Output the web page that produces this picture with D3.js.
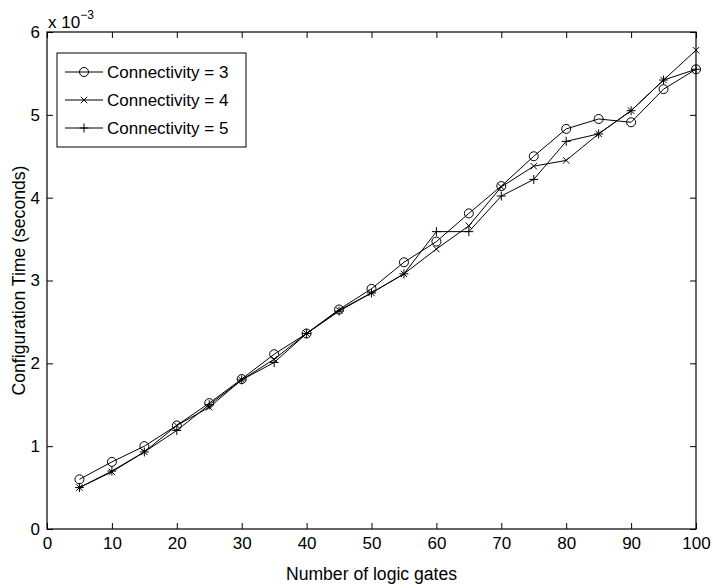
<!DOCTYPE html>
<html>
<head>
<meta charset="utf-8">
<script src="https://cdn.jsdelivr.net/npm/d3@7"></script>
<style>
  body { margin: 0; background: #fff; }
  text { font-family: "Liberation Sans", Arial, Helvetica, sans-serif; fill: #000; }
</style>
</head>
<body>
<div id="chart-area"></div>
<script>
// values in units of 1e-3 seconds
var gates = [5, 10, 15, 20, 25, 30, 35, 40, 45, 50, 55, 60, 65, 70, 75, 80, 85, 90, 95, 100];
var conn3 = [0.60, 0.81, 1.00, 1.25, 1.52, 1.81, 2.11, 2.36, 2.65, 2.90, 3.22, 3.47, 3.81, 4.14, 4.50, 4.83, 4.95, 4.91, 5.31, 5.55];
var conn4 = [0.50, 0.69, 0.93, 1.25, 1.47, 1.80, 2.05, 2.36, 2.64, 2.85, 3.08, 3.38, 3.66, 4.13, 4.38, 4.45, 4.77, 5.05, 5.42, 5.78];
var conn5 = [0.50, 0.70, 0.93, 1.19, 1.50, 1.80, 2.01, 2.36, 2.63, 2.85, 3.08, 3.59, 3.59, 4.02, 4.22, 4.68, 4.77, 5.05, 5.42, 5.55];
var xTicks = [0, 10, 20, 30, 40, 50, 60, 70, 80, 90, 100];
var yTicks = [0, 1, 2, 3, 4, 5, 6];
var seriesNames = ["Connectivity = 3", "Connectivity = 4", "Connectivity = 5"];
var markers = ["circle", "x", "plus"];

var margin = {top: 32, right: 17, bottom: 59, left: 47};
var width = 713 - margin.left - margin.right;
var height = 588 - margin.top - margin.bottom;

var svg = d3.select("#chart-area").append("svg")
    .attr("width", 713)
    .attr("height", 588);

var g = svg.append("g")
    .attr("transform", "translate(" + margin.left + "," + margin.top + ")");

var x = d3.scaleLinear().domain([0, 100]).range([0, width]);
var y = d3.scaleLinear().domain([0, 6]).range([height, 0]);

// axes with inward ticks (matlab style)
var bottomAxisG = g.append("g")
    .attr("transform", "translate(0," + height + ")")
    .call(d3.axisBottom(x).tickValues(xTicks).tickSize(-6).tickPadding(8));
var leftAxisG = g.append("g")
    .call(d3.axisLeft(y).tickValues(yTicks).tickFormat(d3.format("d")).tickSize(-6).tickPadding(7));
var topAxisG = g.append("g")
    .call(d3.axisTop(x).tickValues(xTicks).tickSize(-6).tickFormat(""));
var rightAxisG = g.append("g")
    .attr("transform", "translate(" + width + ",0)")
    .call(d3.axisRight(y).tickValues(yTicks).tickSize(-6).tickFormat(""));

[bottomAxisG, leftAxisG, topAxisG, rightAxisG].forEach(function(a) {
    a.select(".domain").remove();
    a.selectAll("line").attr("stroke", "#000").attr("stroke-width", 1);
    a.selectAll("text").attr("font-size", "17px").attr("fill", "#000");
});

g.append("rect")
    .attr("x", 0).attr("y", 0)
    .attr("width", width).attr("height", height)
    .attr("fill", "none")
    .attr("stroke", "#000")
    .attr("stroke-width", 1.2);

// exponent label
var expo = svg.append("text")
    .attr("x", 48)
    .attr("y", 28)
    .attr("font-size", "17px");
expo.append("tspan").text("x 10");
expo.append("tspan").attr("font-size", "12px").attr("dy", "-9").text("\u22123");

// axis labels
svg.append("text")
    .attr("x", margin.left + width / 2)
    .attr("y", 580)
    .attr("text-anchor", "middle")
    .attr("font-size", "17.6px")
    .text("Number of logic gates");

svg.append("text")
    .attr("transform", "translate(25," + (margin.top + height / 2) + ") rotate(-90)")
    .attr("text-anchor", "middle")
    .attr("font-size", "17.6px")
    .text("Configuration Time (seconds)");

function drawMarker(sel, type, cx, cy) {
    if (type === "circle") {
        sel.append("circle").attr("cx", cx).attr("cy", cy).attr("r", 4.5)
            .attr("fill", "none").attr("stroke", "#000").attr("stroke-width", 1);
    } else if (type === "x") {
        var s = 3.2;
        sel.append("path")
            .attr("d", "M" + (cx - s) + "," + (cy - s) + "L" + (cx + s) + "," + (cy + s) +
                       "M" + (cx - s) + "," + (cy + s) + "L" + (cx + s) + "," + (cy - s))
            .attr("stroke", "#000").attr("stroke-width", 1);
    } else {
        var p = 4.5;
        sel.append("path")
            .attr("d", "M" + (cx - p) + "," + cy + "L" + (cx + p) + "," + cy +
                       "M" + cx + "," + (cy - p) + "L" + cx + "," + (cy + p))
            .attr("stroke", "#000").attr("stroke-width", 1);
    }
}

var line = d3.line()
    .x(function(d) { return x(d.gates); })
    .y(function(d) { return y(d.value); });

[conn3, conn4, conn5].forEach(function(vals, i) {
    var data = gates.map(function(gv, j) { return {gates: gv, value: vals[j]}; });
    var sg = g.append("g");
    sg.append("path")
        .datum(data)
        .attr("d", line)
        .attr("fill", "none")
        .attr("stroke", "#000")
        .attr("stroke-width", 1);
    data.forEach(function(d) {
        drawMarker(sg, markers[i], x(d.gates), y(d.value));
    });
});

// legend
var lg = svg.append("g").attr("transform", "translate(57,53)");
lg.append("rect")
    .attr("width", 189).attr("height", 94)
    .attr("fill", "#fff").attr("stroke", "#000").attr("stroke-width", 1);

seriesNames.forEach(function(name, i) {
    var ly = 19 + i * 28;
    lg.append("line")
        .attr("x1", 8).attr("x2", 46)
        .attr("y1", ly).attr("y2", ly)
        .attr("stroke", "#000").attr("stroke-width", 1);
    drawMarker(lg, markers[i], 27, ly);
    lg.append("text")
        .attr("x", 50)
        .attr("y", ly + 6)
        .attr("font-size", "17px")
        .text(name);
});
</script>
</body>
</html>
